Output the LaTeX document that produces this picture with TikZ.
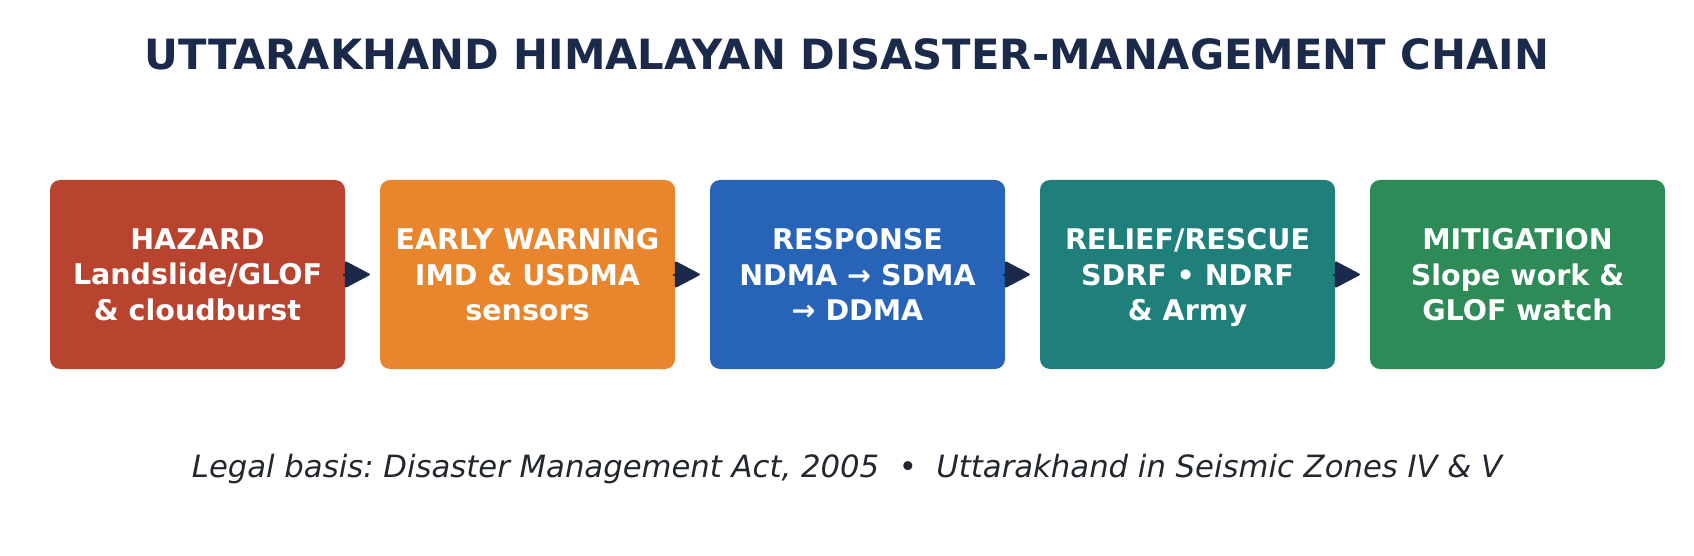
\documentclass[tikz,border=0pt]{standalone}
\usepackage{fontspec}
\setmainfont{DejaVu Sans}
\usetikzlibrary{arrows.meta}
\frenchspacing

\definecolor{navy}{HTML}{1B2A4A}
\definecolor{inkgray}{HTML}{22262E}
\definecolor{hazardred}{HTML}{B84430}
\definecolor{warnorange}{HTML}{E8852D}
\definecolor{respblue}{HTML}{2764B8}
\definecolor{reliefteal}{HTML}{1F7F7A}
\definecolor{mitigreen}{HTML}{2E8B57}

\begin{document}
\begin{tikzpicture}[x=1pt, y=-1pt]
	\tikzstyle{stage} = [rectangle, rounded corners=10pt, minimum width=295pt, minimum height=189pt, inner sep=0pt, align=center, text depth=0pt, text=white, font=\fontsize{28.5}{35.5}\selectfont\bfseries]
	\tikzstyle{flow}  = [draw=navy, line width=2pt, -{Triangle[length=26pt, width=27pt, round]}, shorten <=-2pt, shorten >=10pt]

	\useasboundingbox (0,0) rectangle (1694,556);

	\node[anchor=base, text=navy, font=\fontsize{41.7}{50}\selectfont\bfseries] (title) at (847, 70) {UTTARAKHAND HIMALAYAN DISASTER-MANAGEMENT CHAIN};

	\node[stage, fill=hazardred]  (hazard)     at (197.5, 274.5)  {HAZARD\\Landslide/GLOF\\\& cloudburst};
	\node[stage, fill=warnorange] (warning)    at (527.5, 274.5)  {EARLY WARNING\\IMD \& USDMA\\sensors};
	\node[stage, fill=respblue]   (response)   at (857.5, 274.5)  {RESPONSE\\NDMA → SDMA\\→ DDMA};
	\node[stage, fill=reliefteal] (relief)     at (1187.5, 274.5) {RELIEF/RESCUE\\SDRF • NDRF\\\& Army};
	\node[stage, fill=mitigreen]  (mitigation) at (1517.5, 274.5) {MITIGATION\\Slope work \&\\GLOF watch};

	\foreach \from/\to in {hazard/warning, warning/response, response/relief, relief/mitigation}
		\draw[flow] (\from.east) -- (\to.west);

	\node[anchor=base, text=inkgray, font=\fontsize{30.7}{36}\selectfont\itshape] (legal) at (847, 477) {Legal basis: Disaster Management Act, 2005~~•~~Uttarakhand in Seismic Zones IV \& V};

\end{tikzpicture}
\end{document}
